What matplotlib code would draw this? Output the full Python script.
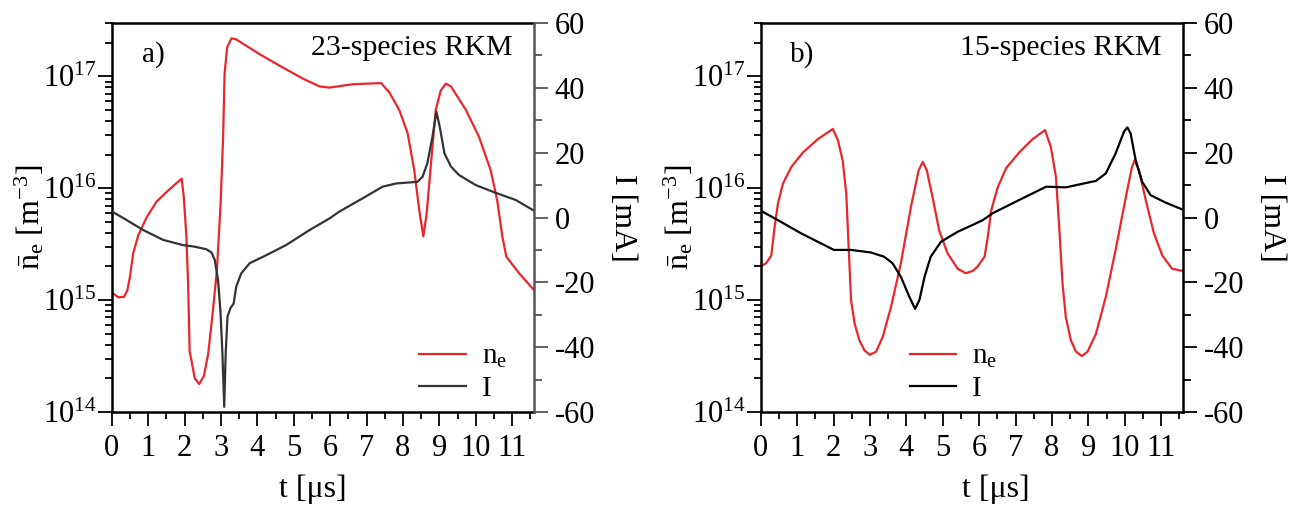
import math
import matplotlib
matplotlib.use("Agg")
import matplotlib.pyplot as plt
from matplotlib.ticker import FixedLocator, LogLocator, MultipleLocator, FuncFormatter, NullFormatter

plt.rcParams.update({
    "font.family": ["Liberation Serif", "DejaVu Serif"],
    "mathtext.fontset": "custom",
    "mathtext.rm": "Liberation Serif",
    "mathtext.it": "Liberation Serif:italic",
    "axes.unicode_minus": False,
    "font.size": 20,
})

RED = "#e8262c"

# ---- panel a) 23-species RKM ----
t_ne_a = [0.00, 0.18, 0.34, 0.43, 0.50, 0.59, 0.73, 0.96, 1.23, 1.55, 1.92, 1.98, 2.05,
          2.10, 2.14, 2.19, 2.28, 2.40, 2.53, 2.65, 2.78, 2.89, 2.99, 3.06, 3.10, 3.17,
          3.29, 3.42, 4.06, 4.70, 5.25, 5.71, 5.98, 6.62, 7.40, 7.62, 7.90, 8.13, 8.31,
          8.45, 8.56, 8.65, 8.77, 8.90, 9.04, 9.18, 9.32, 9.73, 10.09, 10.41, 10.59,
          10.73, 10.84, 11.19, 11.60]
ne_a = [1.17e15, 1.06e15, 1.07e15, 1.23e15, 1.62e15, 2.63e15, 3.80e15, 5.50e15, 7.59e15,
        9.55e15, 1.22e16, 8.32e15, 3.72e15, 1.32e15, 3.47e14, 2.88e14, 2.00e14, 1.78e14,
        2.09e14, 3.31e14, 8.13e14, 1.86e15, 7.24e15, 2.88e16, 1.05e17, 1.82e17, 2.19e17,
        2.14e17, 1.58e17, 1.20e17, 9.55e16, 8.13e16, 7.94e16, 8.51e16, 8.71e16, 7.24e16,
        5.01e16, 3.09e16, 1.45e16, 6.31e15, 3.72e15, 5.89e15, 1.66e16, 5.01e16, 7.50e16,
        8.61e16, 8.13e16, 5.01e16, 2.88e16, 1.45e16, 7.76e15, 3.72e15, 2.45e15, 1.74e15,
        1.23e15]
t_I_a = [0.00, 0.41, 0.87, 1.41, 1.95, 2.28, 2.60, 2.74, 2.83, 2.92, 2.99, 3.04, 3.09,
         3.13, 3.18, 3.26, 3.35, 3.42, 3.56, 3.79, 4.25, 4.79, 5.43, 5.98, 6.25, 6.89,
         7.44, 7.81, 8.40, 8.54, 8.67, 8.81, 8.92, 9.01, 9.14, 9.32, 9.54, 10.00, 10.55,
         11.10, 11.60]
I_a = [1.9, -0.8, -3.9, -6.9, -8.5, -9.0, -9.8, -10.8, -13.1, -19.3, -29.6, -41.9, -58.4,
       -41.9, -30.6, -28.0, -26.5, -21.3, -17.2, -14.1, -11.6, -8.5, -3.9, -0.3, 1.8, 5.9,
       9.5, 10.5, 11.0, 12.6, 16.7, 24.9, 32.6, 28.0, 19.8, 15.7, 13.1, 10.0, 7.6, 5.4,
       2.1]

# ---- panel b) 15-species RKM ----
t_ne_b = [0.00, 0.15, 0.29, 0.38, 0.47, 0.61, 0.84, 1.16, 1.57, 1.98, 2.12, 2.25, 2.35,
          2.41, 2.48, 2.58, 2.71, 2.85, 3.00, 3.17, 3.35, 3.58, 3.85, 4.13, 4.34, 4.45,
          4.56, 4.72, 4.90, 5.13, 5.41, 5.63, 5.82, 5.96, 6.15, 6.24, 6.33, 6.51, 6.74,
          7.10, 7.47, 7.81, 7.97, 8.11, 8.20, 8.29, 8.38, 8.52, 8.66, 8.82, 8.98, 9.21,
          9.48, 9.75, 10.03, 10.19, 10.27, 10.39, 10.58, 10.80, 11.03, 11.30, 11.60]
ne_b = [2.00e15, 2.14e15, 2.51e15, 4.47e15, 7.24e15, 1.10e16, 1.55e16, 2.09e16, 2.75e16,
        3.39e16, 2.69e16, 1.78e16, 8.91e15, 3.24e15, 1.00e15, 6.17e14, 4.37e14, 3.55e14,
        3.24e14, 3.47e14, 4.68e14, 8.71e14, 2.14e15, 6.92e15, 1.45e16, 1.72e16, 1.45e16,
        8.32e15, 4.22e15, 2.63e15, 1.91e15, 1.74e15, 1.82e15, 2.00e15, 2.45e15, 3.72e15,
        6.31e15, 1.02e16, 1.51e16, 2.09e16, 2.75e16, 3.31e16, 2.34e16, 1.26e16, 4.47e15,
        1.41e15, 7.08e14, 4.37e14, 3.47e14, 3.16e14, 3.47e14, 5.01e14, 1.07e15, 2.82e15,
        8.32e15, 1.51e16, 1.78e16, 1.45e16, 7.76e15, 3.98e15, 2.51e15, 1.91e15, 1.82e15]
t_I_b = [0.00, 0.47, 1.11, 2.01, 2.48, 3.03, 3.39, 3.62, 3.85, 4.08, 4.24, 4.36, 4.50,
         4.67, 4.95, 5.41, 5.82, 6.10, 6.37, 7.10, 7.84, 8.38, 9.21, 9.48, 9.75, 9.98,
         10.07, 10.16, 10.30, 10.48, 10.71, 11.12, 11.60]
I_b = [2.1, -0.8, -4.9, -10.0, -10.0, -10.8, -12.1, -14.1, -18.3, -24.4, -28.2, -25.4,
       -18.3, -12.1, -7.5, -4.4, -2.3, -0.8, 1.3, 5.4, 9.5, 9.3, 11.3, 13.6, 19.8, 26.5,
       27.8, 26.0, 17.7, 11.0, 6.9, 4.6, 2.4]

x_ticks = list(range(0, 12))
ne_ticks = [1e14, 1e15, 1e16, 1e17]
I_ticks = [-60, -40, -20, 0, 20, 40, 60]

fig = plt.figure(figsize=(13.04, 5.08), dpi=100)


def make_panel(rect, t_ne, ne, t_I, I, tag, title, I_color, right_color, leg_x, xlab_x):
    ax = fig.add_axes(rect)
    ax2 = ax.twinx()
    ax.set_xlim(0, 11.6)
    ax.set_yscale("log")
    ax.set_ylim(1e14, 3e17)
    ax2.set_ylim(-60, 60)

    l1, = ax.plot(t_ne, ne, color=RED, lw=1.6, label=r"n$_\mathrm{e}$",
                  solid_joinstyle="round")
    l2, = ax2.plot(t_I, I, color=I_color, lw=1.6, label="I", solid_joinstyle="round")

    # frame
    for s in ("top", "bottom", "left"):
        ax.spines[s].set_linewidth(1.8)
        ax2.spines[s].set_visible(False)
    ax.spines["right"].set_visible(False)
    ax2.spines["right"].set_linewidth(1.8)
    ax2.spines["right"].set_color(right_color)

    # ticks
    ax.xaxis.set_major_locator(FixedLocator(x_ticks))
    ax.xaxis.set_minor_locator(MultipleLocator(0.5))
    ax.yaxis.set_major_locator(FixedLocator(ne_ticks))
    ax.yaxis.set_major_formatter(FuncFormatter(lambda v, p: r"$10^{%d}$" % round(math.log10(v))))
    ax.yaxis.set_minor_locator(LogLocator(base=10, subs=range(2, 10)))
    ax.yaxis.set_minor_formatter(NullFormatter())
    ax.tick_params(axis="both", which="major", direction="out", length=10, width=1.3,
                   labelsize=22, top=False, right=False)
    ax.tick_params(axis="both", which="minor", direction="out", length=5, width=1.3,
                   top=False, right=False)
    ax.tick_params(axis="y", pad=1)
    ax.tick_params(axis="x", pad=6)

    ax2.yaxis.set_major_locator(FixedLocator(I_ticks))
    ax2.yaxis.set_minor_locator(MultipleLocator(10))
    ax2.tick_params(axis="y", which="major", direction="out", length=10, width=1.3,
                    labelsize=22, color=right_color, pad=5)
    ax2.tick_params(axis="y", which="minor", direction="out", length=6, width=1.3,
                    color=right_color)

    ax.set_xlabel("t [μs]", fontsize=23)
    ax.xaxis.set_label_coords(xlab_x, -0.16)
    ax.set_ylabel(r"$\bar{\mathrm{n}}_\mathrm{e}$ [m$^{-3}$]", fontsize=23)
    ax.yaxis.set_label_coords(-0.155, 0.5)
    ax2.set_ylabel("I [mA]", fontsize=23, rotation=270, va="bottom")
    ax2.yaxis.set_label_coords(1.175, 0.5)

    ax.text(0.098, 0.918, tag, transform=ax.transAxes, ha="center", va="center", fontsize=21)
    ax.text(0.948, 0.936, title, transform=ax.transAxes, ha="right", va="center", fontsize=21.5)

    ax2.legend(handles=[l1, l2], loc="lower left", bbox_to_anchor=(leg_x, -0.005),
               frameon=False, fontsize=21, handlelength=1.6, handletextpad=0.55,
               labelspacing=0.2, borderaxespad=0)
    return ax, ax2


make_panel([0.0857, 0.189, 0.3238, 0.7657], t_ne_a, ne_a, t_I_a, I_a,
           "a)", "23-species RKM", "#333333", "#555555", 0.70, 0.475)
make_panel([0.5834, 0.189, 0.3238, 0.7657], t_ne_b, ne_b, t_I_b, I_b,
           "b)", "15-species RKM", "#000000", "#000000", 0.325, 0.557)

fig.savefig("out.png", dpi=100)
